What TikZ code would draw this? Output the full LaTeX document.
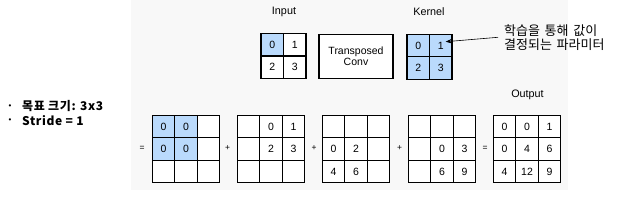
\documentclass[tikz,border=0pt]{standalone}
\usepackage{fontspec}
\setmainfont{Liberation Sans}
\newfontfamily\kr{Noto Sans CJK KR}[WordSpace=1.6]
\newfontfamily\krb{Noto Sans CJK KR}[LetterSpace=5]
\usetikzlibrary{arrows.meta}
\definecolor{bgc}{RGB}{248,248,248}
\definecolor{cb}{RGB}{186,218,252}
\newcommand\cellgrid[5]{%
  \foreach \v/\f [count=\k from 0] in {#5}{%
    \pgfmathtruncatemacro\r{\k/#4}%
    \pgfmathtruncatemacro\c{\k-\r*#4}%
    \node[cell,fill=\f] (#1-\r-\c) at ({#2+(\c+0.5)*22.5},{-(#3+(\r+0.5)*22.5)}) {\v};
  }}
\begin{document}
\begin{tikzpicture}[x=1pt,y=1pt,
  cell/.style={draw=black, line width=1.25pt, minimum size=22.5pt, inner sep=0pt, font=\fontsize{10.5}{12}\selectfont},
  lbl/.style={font=\fontsize{10.8}{12}\selectfont, inner sep=0pt},
  op/.style={font=\fontsize{8.5}{9}\selectfont, inner sep=0pt},
  bul/.style={font=\fontsize{8}{9}\selectfont, inner sep=0pt},
  btxt/.style={font=\krb\bfseries\fontsize{12}{13}\selectfont, inner sep=0pt, anchor=west}]
\useasboundingbox (0,0) rectangle (632,-205);
\fill[bgc] (131,0) rectangle (568,-190);
% top row
\node[lbl] (inlbl) at (284,-12) {Input};
\cellgrid{in}{261}{33.5}{2}{0/cb,1/white,2/white,3/white}
\node[draw=black, line width=1.25pt, fill=white, minimum width=74pt, minimum height=44pt, align=center,
      font=\fontsize{10.5}{11.5}\selectfont, inner sep=0pt] (tconv) at (356,-56.3) {Transposed\\Conv};
\node[lbl] (klbl) at (429,-12) {Kernel};
\cellgrid{k}{407}{34.3}{2}{0/cb,1/cb,2/cb,3/cb}
\node[font=\kr\fontsize{13}{14}\selectfont, align=left, inner xsep=6pt, inner ysep=0pt, anchor=west] (note) at (498,-37.3)
  {학습을 통해 값이\\결정되는 파라미터};
\coordinate (ktip) at (445.7,-41.7);
\draw[-{Stealth[length=6pt,width=4.5pt]}, line width=0.6pt] (note.west) -- (ktip);
% bullets
\node[bul] (b1) at (10,-107) {•};
\node[btxt] (t1) at (22,-106.5) {목표 크기: 3x3};
\node[bul] (b2) at (10,-121) {•};
\node[btxt] (t2) at (22,-120.5) {Stride = 1};
% bottom row
\node[op] (eq1) at (142,-148) {=};
\cellgrid{g1}{152.3}{115.3}{3}{0/cb,0/cb,{}/white,0/cb,0/cb,{}/white,{}/white,{}/white,{}/white}
\node[op] (p1) at (227.5,-148) {+};
\cellgrid{g2}{237.3}{115.3}{3}{{}/white,0/white,1/white,{}/white,2/white,3/white,{}/white,{}/white,{}/white}
\node[op] (p2) at (314,-148) {+};
\cellgrid{g3}{322.3}{115.3}{3}{{}/white,{}/white,{}/white,0/white,2/white,{}/white,4/white,6/white,{}/white}
\node[op] (p3) at (399.5,-148) {+};
\cellgrid{g4}{408.3}{115.3}{3}{{}/white,{}/white,{}/white,{}/white,0/white,3/white,{}/white,6/white,9/white}
\node[op] (eq2) at (485,-148) {=};
\node[lbl] (outlbl) at (527.5,-95) {Output};
\cellgrid{out}{493.3}{115.3}{3}{0/white,0/white,1/white,0/white,4/white,6/white,4/white,12/white,9/white}
\end{tikzpicture}
\end{document}
